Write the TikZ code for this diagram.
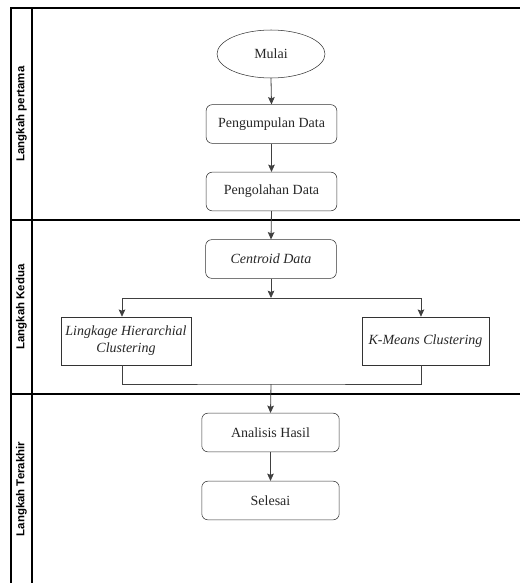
\documentclass[tikz,border=0pt]{standalone}
\usepackage{fontspec}
\setmainfont{Liberation Serif}
\setsansfont{Liberation Sans}
\usepackage{tikz}
\usetikzlibrary{arrows.meta}
\usetikzlibrary{shapes.geometric}
\usetikzlibrary{positioning}

\begin{document}
\begin{tikzpicture}[x=0.75pt, y=-0.75pt, box/.style={rectangle, draw=black!80, rounded corners=4.5pt, minimum width=98pt, minimum height=29pt, font=\fontsize{10.5}{12.6}\selectfont, text=black!85}, plainbox/.style={rectangle, draw=black!80, minimum width=95pt, minimum height=36pt, align=center, font=\fontsize{10.5}{12.6}\selectfont\itshape, text=black!85}, arrow/.style={semithick, draw=black!75, -{Stealth[length=5.5pt, width=5pt, inset=1pt]}}, line/.style={semithick, draw=black!75}, frame/.style={line width=0.9pt}, lane/.style={font=\sffamily\bfseries\fontsize{8.6}{10}\selectfont, rotate=90}]
\useasboundingbox (0,0) rectangle (520,583);
% pool and lanes
\draw [frame] (520,8) -- (11,8) -- (11,583);
\draw [frame] (32,8) -- (32,583);
\draw [frame] (11,220) -- (520,220);
\draw [frame] (11,394) -- (520,394);
\node (LANEA) [lane] at (21.5,114) {Langkah pertama};
\node (LANEB) [lane] at (21.5,307) {Langkah Kedua};
\node (LANEC) [lane] at (21.5,489) {Langkah Terakhir};
% steps
\node (MULAI) [draw=black!80, ellipse, minimum width=81pt, minimum height=36pt, font=\fontsize{10.5}{12.6}\selectfont, text=black!85] at (271,54) {Mulai};
\node (KUMPUL) [box] at (271.5,124) {Pengumpulan Data};
\node (OLAH) [box] at (271.5,191.5) {Pengolahan Data};
\node (CENTROID) [box, font=\fontsize{10.5}{12.6}\selectfont\itshape] at (271,259) {Centroid Data};
\node (LHC) [plainbox] at (126,341) {Lingkage Hierarchial\\Clustering};
\node (KMEANS) [plainbox] at (425.5,341) {K-Means Clustering};
\node (ANALISIS) [box, minimum width=103pt] at (270.5,432.5) {Analisis Hasil};
\node (SELESAI) [box, minimum width=103pt] at (270.5,500.5) {Selesai};
\coordinate (SPLIT) at (271,298);
\coordinate (MERGE) at (271,384);
% connectors
\draw [arrow] (MULAI.south) -- (KUMPUL.north);
\draw [arrow] (KUMPUL.south) -- (OLAH.north);
\draw [arrow] (OLAH.south) -- (CENTROID.north);
\draw [arrow] (CENTROID.south) -- (SPLIT);
\draw [arrow] (SPLIT) -| ([xshift=-3pt]LHC.north);
\draw [arrow] (SPLIT) -| ([xshift=-3.4pt]KMEANS.north);
\draw [line] ([xshift=-3pt]LHC.south) |- (MERGE) -| ([xshift=-3.4pt]KMEANS.south);
\draw [arrow] (MERGE) -- (ANALISIS.north);
\draw [arrow] (ANALISIS.south) -- (SELESAI.north);
\end{tikzpicture}
\end{document}
